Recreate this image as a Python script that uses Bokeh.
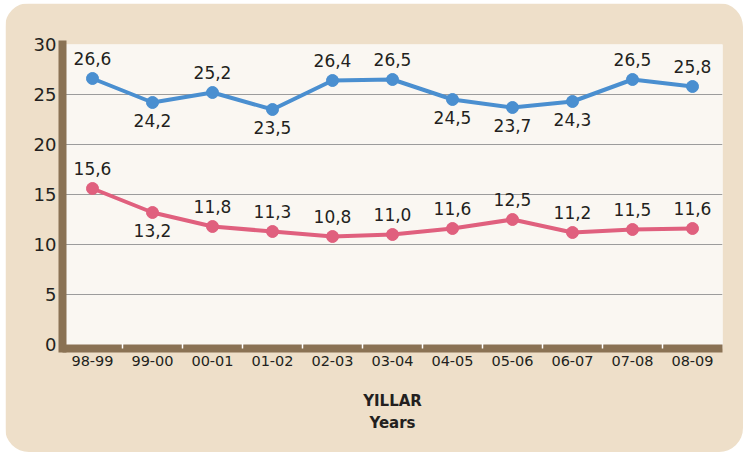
from bokeh.plotting import figure
from bokeh.models import ColumnDataSource, Range1d, FixedTicker
from bokeh.core.properties import value
from bokeh.embed import file_html
from bokeh.resources import INLINE

years = ["98-99", "99-00", "00-01", "01-02", "02-03", "03-04", "04-05", "05-06", "06-07", "07-08", "08-09"]
blue_vals = [26.6, 24.2, 25.2, 23.5, 26.4, 26.5, 24.5, 23.7, 24.3, 26.5, 25.8]
red_vals = [15.6, 13.2, 11.8, 11.3, 10.8, 11.0, 11.6, 12.5, 11.2, 11.5, 11.6]
blue_above = [True, False, True, False, True, True, False, False, False, True, True]
red_above = [True, False, True, True, True, True, True, True, True, True, True]
y_ticks = [0, 5, 10, 15, 20, 25, 30]

FONT = "DejaVu Sans"
TEXT = "#231F20"
TAN = "#EEDFC9"
CREAM = "#FAF7F2"
BROWN = "#8A7254"
BLUE = "#4A8FD0"
RED = "#E0607E"

xs = list(range(len(years)))

p = figure(width=738, height=449, output_backend="svg", toolbar_location=None,
           x_range=Range1d(-0.5, len(years) - 0.5), y_range=Range1d(-0.4, 30),
           min_border_left=57, min_border_right=21, min_border_top=41, min_border_bottom=104,
           styles={"margin-left": "5px", "margin-top": "3px", "border-radius": "24px", "overflow": "hidden"})
p.border_fill_color = TAN
p.background_fill_color = CREAM
p.outline_line_color = None

# x axis
p.xaxis.ticker = FixedTicker(ticks=xs, minor_ticks=[i + 0.5 for i in xs[:-1]])
p.xaxis.major_label_overrides = {i: y for i, y in enumerate(years)}
p.xaxis.axis_line_color = BROWN
p.xaxis.axis_line_width = 8
p.xaxis.major_tick_line_color = None
p.xaxis.major_tick_out = 0
p.xaxis.major_tick_in = 0
p.xaxis.minor_tick_line_color = "white"
p.xaxis.minor_tick_line_width = 1.5
p.xaxis.minor_tick_in = 5
p.xaxis.minor_tick_out = 0
p.xaxis.major_label_standoff = 7
p.xaxis.major_label_text_font = FONT
p.xaxis.major_label_text_font_size = "14.5px"
p.xaxis.major_label_text_color = TEXT
p.xaxis.axis_label = "YILLAR\nYears"
p.xaxis.axis_label_text_font = FONT
p.xaxis.axis_label_text_font_style = "bold"
p.xaxis.axis_label_text_font_size = "15px"
p.xaxis.axis_label_text_color = TEXT
p.xaxis.axis_label_standoff = 23
p.xaxis.axis_label_text_line_height = 1.25

# y axis
p.yaxis.ticker = FixedTicker(ticks=y_ticks)
p.yaxis.axis_line_color = BROWN
p.yaxis.axis_line_width = 8
p.yaxis.axis_line_cap = "square"
p.yaxis.major_tick_line_color = None
p.yaxis.major_tick_out = 0
p.yaxis.major_tick_in = 0
p.yaxis.minor_tick_line_color = None
p.yaxis.major_label_standoff = 6
p.yaxis.major_label_text_font = FONT
p.yaxis.major_label_text_font_size = "18px"
p.yaxis.major_label_text_color = TEXT

p.xgrid.grid_line_color = None
p.ygrid.ticker = FixedTicker(ticks=[t for t in y_ticks if 0 < t < 30])
p.ygrid.grid_line_color = "#9C9C9C"
p.ygrid.grid_line_width = 1


def fmt(v):
    return f"{v:.1f}".replace(".", ",")


for vals, above, color in [(blue_vals, blue_above, BLUE), (red_vals, red_above, RED)]:
    src = ColumnDataSource(dict(
        x=xs, y=vals,
        lab=[fmt(v) for v in vals],
        off=[-20 if a else 18 for a in above],
    ))
    p.line("x", "y", source=src, line_color=color, line_width=4)
    p.scatter("x", "y", source=src, size=12, fill_color=color, line_color=color)
    p.text("x", "y", text="lab", source=src, y_offset="off", text_align="center",
           text_baseline="middle", text_font=value(FONT), text_font_size="17px",
           text_color=TEXT)

open("out.html", "w").write(file_html(p, INLINE))
